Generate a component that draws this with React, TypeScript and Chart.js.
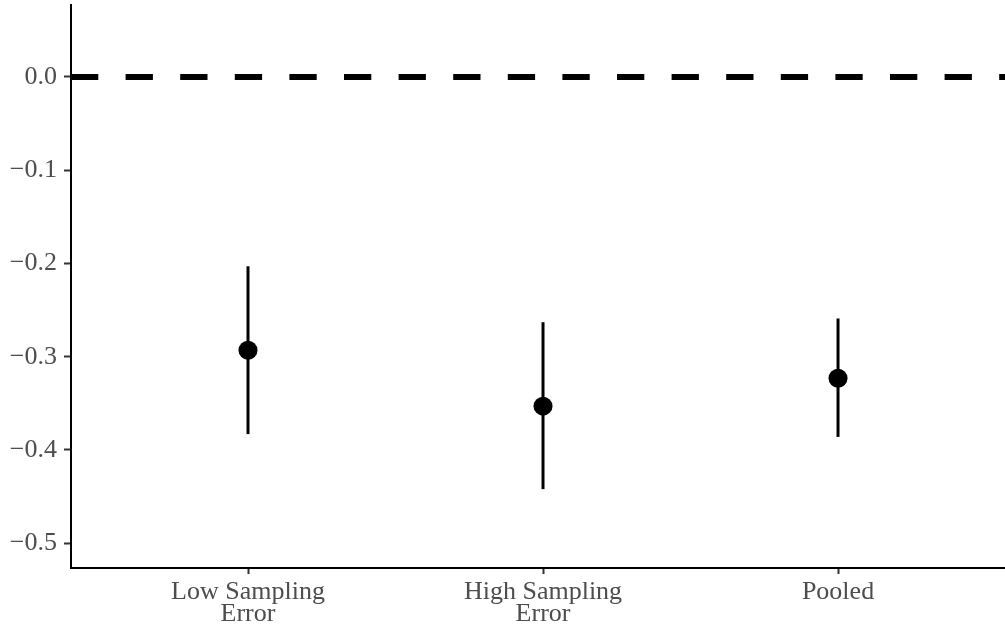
import React, { useEffect, useRef } from "react";
import { Chart, registerables } from "chart.js";

Chart.register(...registerables);

const categories: string[][] = [["Low Sampling", "Error"], ["High Sampling", "Error"], ["Pooled"]];
const estimates: number[] = [-0.293, -0.353, -0.323];
const lowerBounds: number[] = [-0.383, -0.442, -0.386];
const upperBounds: number[] = [-0.203, -0.263, -0.259];
const yTicks: number[] = [-0.5, -0.4, -0.3, -0.2, -0.1, 0.0];
const referenceValue = 0;

const W = 1005;
const H = 631;
const FONT = "'Liberation Serif', 'Times New Roman', serif";

export default function App() {
  const ref = useRef<HTMLCanvasElement | null>(null);

  useEffect(() => {
    document.body.style.margin = "0";
    const canvas = ref.current;
    if (!canvas) return;
    const xs = categories.map((_, i) => i + 1);
    const errorSets = xs.map((x, i) => ({
      type: "line" as const,
      data: [
        { x, y: lowerBounds[i] },
        { x, y: upperBounds[i] },
      ],
      borderColor: "#000",
      borderWidth: 3,
      pointRadius: 0,
      order: 1,
    }));
    const chart = new Chart(canvas, {
      type: "scatter",
      data: {
        datasets: [
          {
            type: "scatter",
            data: xs.map((x, i) => ({ x, y: estimates[i] })),
            backgroundColor: "#000",
            borderColor: "#000",
            pointRadius: 9.5,
            borderWidth: 0,
            order: 0,
          },
          ...errorSets,
          {
            type: "line",
            data: [
              { x: 0.4, y: referenceValue },
              { x: 3.566, y: referenceValue },
            ],
            borderColor: "#000",
            borderWidth: 6,
            borderDash: [27.3, 27.3],
            borderCapStyle: "butt",
            pointRadius: 0,
            order: 2,
          },
        ] as any,
      },
      options: {
        responsive: false,
        animation: false,
        layout: { autoPadding: false, padding: { top: 5, left: 0, right: 0, bottom: 0 } },
        plugins: { legend: { display: false }, tooltip: { enabled: false } },
        scales: {
          x: {
            type: "linear",
            min: 0.4,
            max: 3.566,
            afterBuildTicks: (scale: any) => {
              scale.ticks = xs.map((v) => ({ value: v }));
            },
            afterFit: (scale: any) => {
              scale.height = H - 568;
              scale.paddingLeft = 0;
              scale.paddingRight = 0;
            },
            ticks: {
              callback: (v: any) => categories[Math.round(Number(v)) - 1] ?? "",
              color: "#4D4D4D",
              font: { family: FONT, size: 26, lineHeight: 0.82 },
              padding: 8,
              maxRotation: 0,
              autoSkip: false,
            },
            grid: {
              drawOnChartArea: false,
              tickLength: 6,
              tickColor: "#333",
              tickWidth: 2,
            },
            border: { display: true, color: "#000", width: 2 },
          },
          y: {
            type: "linear",
            min: -0.5266,
            max: 0.0772,
            afterBuildTicks: (scale: any) => {
              scale.ticks = yTicks.map((v) => ({ value: v }));
            },
            afterFit: (scale: any) => {
              scale.width = 71;
              scale.paddingTop = 0;
              scale.paddingBottom = 0;
            },
            ticks: {
              callback: (v: any) => {
                const n = Number(v);
                const s = Math.abs(n).toFixed(1);
                return n < -1e-9 ? "\u2212" + s : s;
              },
              color: "#4D4D4D",
              font: { family: FONT, size: 26 },
              padding: 7,
            },
            grid: {
              drawOnChartArea: false,
              tickLength: 7,
              tickColor: "#333",
              tickWidth: 2,
            },
            border: { display: true, color: "#000", width: 2 },
          },
        },
      },
    });
    return () => chart.destroy();
  }, []);

  return (
    <div style={{ position: "absolute", left: 0, top: 0, width: W, height: H, background: "#fff" }}>
      <canvas ref={ref} width={W} height={H} style={{ width: W, height: H, display: "block" }} />
    </div>
  );
}
